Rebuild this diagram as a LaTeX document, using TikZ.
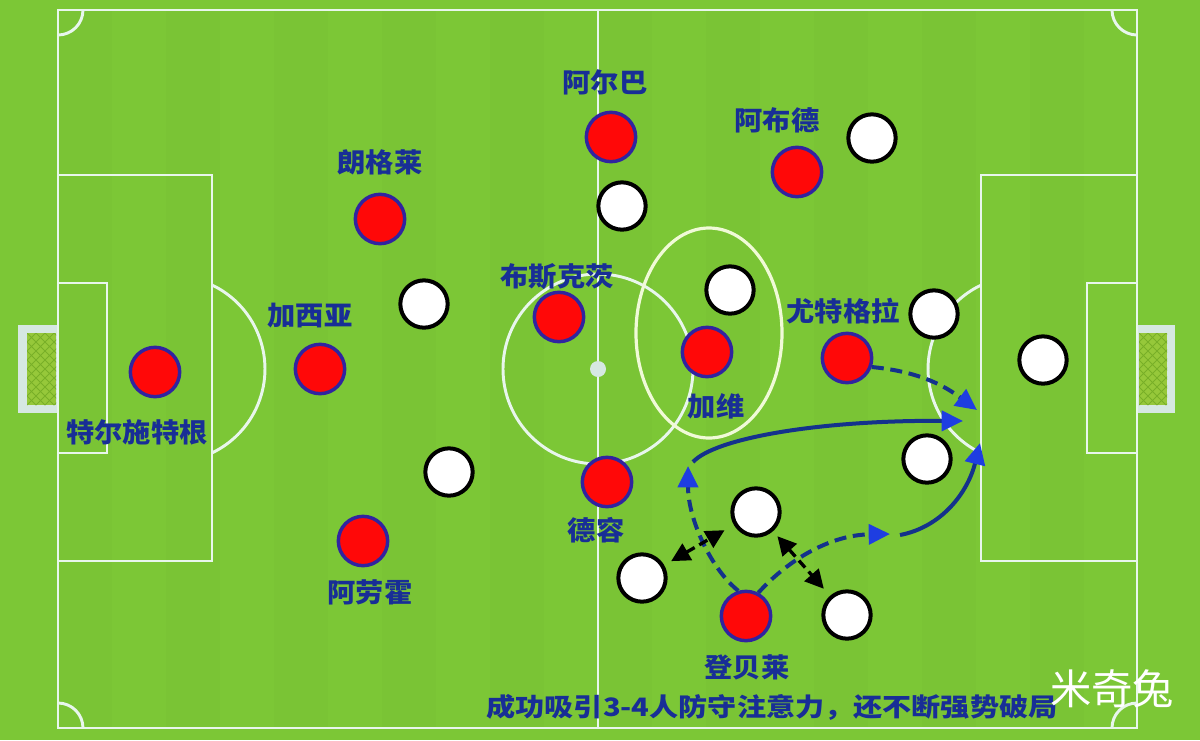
\documentclass[tikz,border=0pt]{standalone}
\usepackage{fontspec}
\newfontfamily\cjk{Noto Sans CJK SC}
\usetikzlibrary{arrows.meta}
\definecolor{grass}{RGB}{124,199,54}
\definecolor{pline}{RGB}{232,246,236}
\definecolor{ellcol}{RGB}{240,250,215}
\definecolor{navy}{RGB}{20,50,140}
\definecolor{tipblue}{RGB}{30,62,225}
\definecolor{lbl}{RGB}{24,46,150}
\definecolor{redp}{RGB}{255,8,8}
\definecolor{redb}{RGB}{48,36,160}
\definecolor{netc}{RGB}{150,200,58}
\definecolor{netl}{RGB}{120,175,40}
\definecolor{goalc}{RGB}{214,232,226}
\tikzset{
  pitch/.style={draw=pline, line width=2.2pt},
  redpl/.style={circle, fill=redp, draw=redb, line width=2.6pt, minimum size=37pt, inner sep=0pt},
  whitepl/.style={circle, fill=white, draw=black, line width=3pt, minimum size=35.5pt, inner sep=0pt},
  lab/.style={font=\cjk\bfseries\fontsize{20}{20}\selectfont, text=lbl, inner sep=0pt, xscale=1.06},
  runpath/.style={draw=navy, line width=3pt, -{Triangle[length=16pt, width=15pt, fill=tipblue, color=tipblue]}},
  dashrun/.style={runpath, dash pattern=on 9pt off 5pt},
  feint/.style={draw=black, line width=2.5pt, dash pattern=on 7pt off 4pt,
     {Triangle[length=14pt, width=14pt]}-{Triangle[length=14pt, width=14pt]}}
}
\begin{document}
\begin{tikzpicture}[x=0.75pt,y=-0.75pt]
\fill[grass] (0,0) rectangle (1200,740);
\useasboundingbox (0,0) rectangle (1200,740);
% subtle stripes
\foreach \i in {0,2,4,6,8,10,12,14,16,18}{
  \fill[grass!96!black, opacity=0.35] ({58+\i*54},10) rectangle ({58+\i*54+54},728);
}
% goals
\fill[goalc] (18,325) rectangle (58,413);
\fill[netc] (27,333) rectangle (56,405);
\begin{scope}
\clip (27,333) rectangle (56,405);
\foreach \k in {-8,...,14}{
  \draw[netl, line width=0.6pt] ({27+\k*9},333) -- ({27+\k*9+72},405);
  \draw[netl, line width=0.6pt] ({27+\k*9},405) -- ({27+\k*9+72},333);
}
\end{scope}
\fill[goalc] (1137,325) rectangle (1175,413);
\fill[netc] (1139,333) rectangle (1167,405);
\begin{scope}
\clip (1139,333) rectangle (1167,405);
\foreach \k in {-8,...,14}{
  \draw[netl, line width=0.6pt] ({1139+\k*9-72},333) -- ({1139+\k*9},405);
  \draw[netl, line width=0.6pt] ({1139+\k*9-72},405) -- ({1139+\k*9},333);
}
\end{scope}
% pitch markings
\draw[pitch] (58,10) rectangle (1137,728);
\draw[pitch] (598,10) -- (598,728);
\draw[pitch] (598,369) circle[radius=95];
\fill[goalc] (598,369) circle[radius=8];
\draw[pitch] (58,175) rectangle (212,561);
\draw[pitch] (981,175) rectangle (1137,561);
\draw[pitch] (58,283) rectangle (107,453);
\draw[pitch] (1087,283) rectangle (1137,453);
\draw[pitch] (212,285) arc[start angle=-64.5, end angle=64.5, radius=93];
\draw[pitch] (981,453) arc[start angle=115.5, end angle=244.5, radius=93];
\draw[pitch] (83,10) arc[start angle=0, end angle=90, radius=25];
\draw[pitch] (1112,10) arc[start angle=180, end angle=90, radius=25];
\draw[pitch] (83,728) arc[start angle=0, end angle=-90, radius=25];
\draw[pitch] (1112,728) arc[start angle=180, end angle=270, radius=25];
% highlight ellipse
\draw[draw=ellcol, line width=2.4pt] (709,333) ellipse[x radius=73, y radius=105];

% red players
\node[redpl] (ts) at (155,372) {};
\node[redpl] (gar) at (320,369) {};
\node[redpl] (lg) at (380,219) {};
\node[redpl] (ara) at (363,541) {};
\node[redpl] (bus) at (559,317) {};
\node[redpl] (alb) at (611,137) {};
\node[redpl] (abd) at (797,172) {};
\node[redpl] (gav) at (707,352) {};
\node[redpl] (yt) at (847,358) {};
\node[redpl] (dj) at (607,482) {};
\node[redpl] (db) at (746,616) {};
% white players
\node[whitepl] (w1) at (872,138) {};
\node[whitepl] (w2) at (622,206) {};
\node[whitepl] (w3) at (730,290) {};
\node[whitepl] (w4) at (424,304) {};
\node[whitepl] (w5) at (934,314) {};
\node[whitepl] (w6) at (1043,360) {};
\node[whitepl] (w7) at (449,472) {};
\node[whitepl] (w8) at (927,459) {};
\node[whitepl] (w9) at (756,512) {};
\node[whitepl] (w10) at (642,578) {};
\node[whitepl] (w11) at (847,615) {};

% labels
\node[lab] (lts) at (137,432) {特尔施特根};
\node[lab] (lgar) at (310,316) {加西亚};
\node[lab] (llg) at (380,162) {朗格莱};
\node[lab] (lara) at (370,592) {阿劳霍};
\node[lab] (lbus) at (557,277) {布斯克茨};
\node[lab] (lalb) at (605,82) {阿尔巴};
\node[lab] (labd) at (777,120) {阿布德};
\node[lab] (lgav) at (716,406) {加维};
\node[lab] (lyt) at (843,311) {尤特格拉};
\node[lab] (ldj) at (596,530) {德容};
\node[lab] (ldb) at (747,667) {登贝莱};
\node[font=\cjk\bfseries\fontsize{19}{19}\selectfont, text=lbl, inner sep=0pt, xscale=1.15] (cap) at (772,707) {成功吸引3-4人防守注意力，还不断强势破局};
\node[font=\cjk\fontsize{31}{31}\selectfont, text=white, inner sep=0pt] (wm) at (1112,689) {米奇兔};

% movement arrows
\coordinate (t1) at (977,410);
\coordinate (s2) at (693,462);
\coordinate (t2) at (963,421);
\coordinate (t3) at (688,466);
\coordinate (t4) at (890,534);
\coordinate (s5) at (900,535);
\coordinate (t5) at (980,443);
\draw[dashrun] (yt.-20) .. controls (925,372) and (950,390) .. (t1);
\draw[runpath] (s2) .. controls (715,438) and (820,420) .. (t2);
\draw[dashrun] (db.107) .. controls (712,570) and (688,520) .. (t3);
\draw[dashrun] (db.62) .. controls (788,560) and (830,535) .. (t4);
\draw[runpath] (s5) .. controls (942,527) and (968,492) .. (t5);
% pressing arrows
\draw[feint, shorten <=6pt, shorten >=8pt] (w10) -- (w9);
\draw[feint, shorten <=5pt, shorten >=7pt] (w9) -- (w11);
\end{tikzpicture}
\end{document}
